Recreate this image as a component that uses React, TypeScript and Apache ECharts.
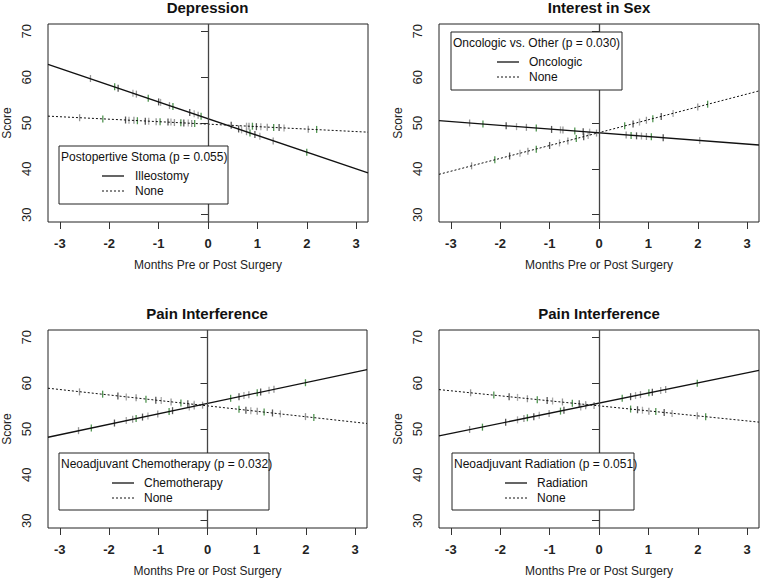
import React, { useEffect, useRef } from "react";
import * as echarts from "echarts";

// ---- data ----
const xTicks = [-3, -2, -1, 0, 1, 2, 3];
const yTicks = [30, 40, 50, 60, 70];
const xEnds = [-3.24, 3.24];

const titles = ["Depression", "Interest in Sex", "Pain Interference", "Pain Interference"];
const legendTitles = [
  "Postopertive Stoma (p = 0.055)",
  "Oncologic vs. Other (p = 0.030)",
  "Neoadjuvant Chemotherapy (p = 0.032)",
  "Neoadjuvant Radiation (p = 0.051)",
];
const solidNames = ["Illeostomy", "Oncologic", "Chemotherapy", "Radiation"];
const dottedNames = ["None", "None", "None", "None"];

// fitted line values at the left and right plot edges
const solidEnds = [[62.8, 39.1], [50.5, 45.2], [48.2, 62.95], [48.5, 62.8]];
const dottedEnds = [[51.5, 48.0], [38.8, 57.0], [58.9, 51.2], [58.6, 51.5]];

// observation marks (rug) per group
const depSolidX = [-2.38, -1.89, -1.82, -1.52, -1.45, -1.21, -1.0, -0.96, -0.78, -0.71, -0.37, -0.28, -0.2, -0.14, 0.62, 0.68, 0.78, 0.85, 0.95, 1.05, 1.32, 2.0];
const depSolidY = [59.7, 57.9, 57.6, 56.5, 56.3, 55.4, 54.6, 54.5, 53.8, 53.6, 52.3, 52.0, 51.7, 51.5, 48.7, 48.5, 48.1, 47.8, 47.5, 47.1, 46.1, 43.6];
const depDottedX = [-2.6, -2.13, -1.67, -1.6, -1.5, -1.43, -1.27, -1.2, -1.05, -0.97, -0.81, -0.75, -0.68, -0.55, -0.49, -0.4, -0.33, -0.27, 0.47, 0.78, 0.83, 0.9, 0.98, 1.07, 1.2, 1.33, 1.44, 1.54, 2.03, 2.2];
const depDottedY = [51.15, 50.9, 50.65, 50.6, 50.6, 50.5, 50.4, 50.4, 50.3, 50.3, 50.2, 50.2, 50.1, 50.05, 50.0, 50.0, 49.9, 49.9, 49.5, 49.3, 49.3, 49.3, 49.2, 49.2, 49.1, 49.0, 49.0, 48.9, 48.65, 48.6];

const sexSolidX = [-2.62, -2.35, -1.88, -1.67, -1.47, -1.27, -0.96, -0.78, -0.73, -0.49, -0.32, -0.19, 0.55, 0.65, 0.76, 0.86, 0.96, 1.06, 1.3, 2.04];
const sexSolidY = [50.0, 49.8, 49.4, 49.2, 49.05, 48.9, 48.6, 48.5, 48.45, 48.25, 48.1, 48.0, 47.4, 47.3, 47.2, 47.15, 47.05, 47.0, 46.8, 46.2];
const sexDottedX = [-2.58, -2.11, -1.81, -1.6, -1.44, -1.27, -1.0, -0.8, -0.63, -0.46, -0.31, -0.22, -0.05, 0.52, 0.69, 0.82, 0.96, 1.09, 1.26, 1.5, 2.0, 2.2];
const sexDottedY = [40.65, 41.97, 42.8, 43.4, 43.85, 44.3, 45.1, 45.65, 46.1, 46.6, 47.0, 47.3, 47.8, 49.4, 49.8, 50.2, 50.6, 50.95, 51.4, 52.1, 53.5, 54.1];

const chemoSolidX = [-2.62, -2.36, -1.89, -1.65, -1.52, -1.45, -1.32, -1.21, -1.01, -0.78, -0.71, -0.37, -0.27, 0.47, 0.64, 0.74, 0.84, 1.01, 1.08, 1.25, 1.35, 1.99];
const chemoSolidY = [49.64, 50.2, 51.3, 51.85, 52.15, 52.3, 52.6, 52.85, 53.3, 53.8, 54.0, 54.8, 55.0, 56.7, 57.05, 57.3, 57.5, 57.9, 58.05, 58.45, 58.7, 60.1];
const chemoDottedX = [-2.6, -2.13, -1.82, -1.65, -1.45, -1.25, -1.05, -0.94, -0.74, -0.54, -0.4, -0.27, -0.1, 0.64, 0.78, 0.88, 1.01, 1.15, 1.32, 1.48, 1.99, 2.16];
const chemoDottedY = [58.1, 57.6, 57.2, 57.0, 56.8, 56.5, 56.3, 56.2, 55.9, 55.7, 55.5, 55.4, 55.2, 54.3, 54.1, 54.0, 53.85, 53.7, 53.5, 53.3, 52.7, 52.5];

const radSolidX = [-2.62, -2.36, -1.89, -1.65, -1.52, -1.45, -1.32, -1.21, -1.01, -0.78, -0.71, -0.37, -0.27, 0.47, 0.64, 0.74, 0.84, 1.01, 1.08, 1.25, 1.35, 1.99];
const radSolidY = [49.9, 50.4, 51.5, 52.0, 52.3, 52.45, 52.7, 53.0, 53.4, 53.9, 54.1, 54.8, 55.05, 56.7, 57.05, 57.3, 57.5, 57.9, 58.0, 58.4, 58.6, 60.0];
const radDottedX = [-2.6, -2.13, -1.82, -1.65, -1.45, -1.25, -1.05, -0.94, -0.74, -0.54, -0.4, -0.27, -0.1, 0.64, 0.78, 0.88, 1.01, 1.15, 1.32, 1.48, 1.99, 2.16];
const radDottedY = [57.9, 57.4, 57.05, 56.9, 56.6, 56.4, 56.2, 56.1, 55.9, 55.6, 55.5, 55.35, 55.15, 54.35, 54.2, 54.1, 53.9, 53.8, 53.6, 53.4, 52.9, 52.7];

const rugSolid = [[depSolidX, depSolidY], [sexSolidX, sexSolidY], [chemoSolidX, chemoSolidY], [radSolidX, radSolidY]];
const rugDotted = [[depDottedX, depDottedY], [sexDottedX, sexDottedY], [chemoDottedX, chemoDottedY], [radDottedX, radDottedY]];

// ---- layout ----
const FONT = '"Liberation Sans", Arial, sans-serif';
const grids = [
  { left: 47, top: 24, width: 321, height: 198 },
  { left: 439, top: 24, width: 320, height: 198 },
  { left: 47, top: 330, width: 320, height: 198 },
  { left: 439, top: 330, width: 320, height: 198 },
];
const legendBoxes = [
  { x: 59, y: 146, w: 169, h: 58, lx: 102, tx: 135 },
  { x: 451, y: 32, w: 171, h: 58, lx: 497, tx: 529 },
  { x: 59, y: 453, w: 210, h: 57, lx: 112, tx: 144 },
  { x: 452, y: 453, w: 182, h: 57, lx: 505, tx: 537 },
];
const rugColors = ["#8a8a8a", "#3f8a3f", "#444444", "#a0a0a0"];

const toPairs = (xs: number[], ys: number[]) => xs.map((x, i) => [x, ys[i]]);

export default function App() {
  const ref = useRef<HTMLDivElement>(null);
  useEffect(() => {
    if (!ref.current) return;
    const chart = echarts.init(ref.current, undefined, { renderer: "svg" });

    const xAxis: any[] = [];
    const yAxis: any[] = [];
    const series: any[] = [];
    const title: any[] = [];
    const graphic: any[] = [];

    grids.forEach((g, i) => {
      title.push({
        text: titles[i],
        left: g.left + g.width / 2,
        top: g.top - 24,
        textAlign: "center",
        padding: 0,
        textStyle: { fontFamily: FONT, fontSize: 15, fontWeight: "bold", color: "#111" },
      });
      xAxis.push({
        type: "value",
        gridIndex: i,
        min: xEnds[0],
        max: xEnds[1],
        name: "Months Pre or Post Surgery",
        nameLocation: "middle",
        nameGap: 37,
        nameTextStyle: { fontFamily: FONT, fontSize: 12, color: "#222" },
        axisLine: { show: false },
        axisTick: { show: true, length: 7, inside: false, customValues: xTicks, lineStyle: { color: "#333" } },
        axisLabel: { customValues: xTicks, margin: 15, fontFamily: FONT, fontSize: 13, fontWeight: "bold", color: "#222" },
        splitLine: { show: false },
      });
      yAxis.push({
        type: "value",
        gridIndex: i,
        min: 28.4,
        max: 71.6,
        name: "Score",
        nameLocation: "middle",
        nameRotate: 90,
        nameGap: 35,
        nameTextStyle: { fontFamily: FONT, fontSize: 12, color: "#222" },
        axisLine: { show: false },
        axisTick: { show: true, length: 7, customValues: yTicks, lineStyle: { color: "#333" } },
        axisLabel: { customValues: yTicks, rotate: 90, margin: 15, fontFamily: FONT, fontSize: 13, color: "#222" },
        splitLine: { show: false },
      });
      series.push({
        type: "line",
        name: solidNames[i],
        xAxisIndex: i,
        yAxisIndex: i,
        data: [[xEnds[0], solidEnds[i][0]], [xEnds[1], solidEnds[i][1]]],
        showSymbol: false,
        lineStyle: { color: "#111", width: 1.3 },
        z: 3,
        markLine: {
          silent: true,
          symbol: ["none", "none"],
          label: { show: false },
          lineStyle: { color: "#444", width: 1.3, type: "solid" },
          data: [{ xAxis: 0 }],
        },
      });
      series.push({
        type: "line",
        name: dottedNames[i],
        xAxisIndex: i,
        yAxisIndex: i,
        data: [[xEnds[0], dottedEnds[i][0]], [xEnds[1], dottedEnds[i][1]]],
        showSymbol: false,
        lineStyle: { color: "#111", width: 1, type: [2, 2] },
        z: 3,
      });
      [rugSolid[i], rugDotted[i]].forEach((r) => {
        series.push({
          type: "scatter",
          xAxisIndex: i,
          yAxisIndex: i,
          data: toPairs(r[0], r[1]),
          symbol: "rect",
          symbolSize: [1.3, 7],
          itemStyle: { color: (p: any) => rugColors[p.dataIndex % rugColors.length], opacity: 0.9 },
          z: 2,
          silent: true,
        });
      });

      const b = legendBoxes[i];
      const txt = (text: string, x: number, y: number) => ({
        type: "text",
        x,
        y,
        style: { text, fontFamily: FONT, fontSize: 12, fill: "#111", verticalAlign: "middle", align: "left" },
        z: 101,
      });
      graphic.push(
        { type: "rect", shape: { x: b.x, y: b.y, width: b.w, height: b.h }, style: { fill: "#fff", stroke: "#222", lineWidth: 1 }, z: 100 },
        txt(legendTitles[i], b.x + 2, b.y + 11),
        { type: "line", shape: { x1: b.lx, y1: b.y + 30, x2: b.lx + 22, y2: b.y + 30 }, style: { stroke: "#111", lineWidth: 1.3 }, z: 101 },
        txt(solidNames[i], b.tx, b.y + 30),
        { type: "line", shape: { x1: b.lx, y1: b.y + 45, x2: b.lx + 22, y2: b.y + 45 }, style: { stroke: "#111", lineWidth: 1, lineDash: [2, 2] }, z: 101 },
        txt(dottedNames[i], b.tx, b.y + 45),
      );
    });

    chart.setOption({
      animation: false,
      backgroundColor: "#fff",
      title,
      grid: grids.map((g) => ({ ...g, show: true, borderColor: "#222", borderWidth: 1, backgroundColor: "transparent" })),
      xAxis,
      yAxis,
      series,
      graphic,
    });
    return () => chart.dispose();
  }, []);
  return <div ref={ref} style={{ position: "fixed", left: 0, top: 0, width: 761, height: 580, background: "#fff" }} />;
}
